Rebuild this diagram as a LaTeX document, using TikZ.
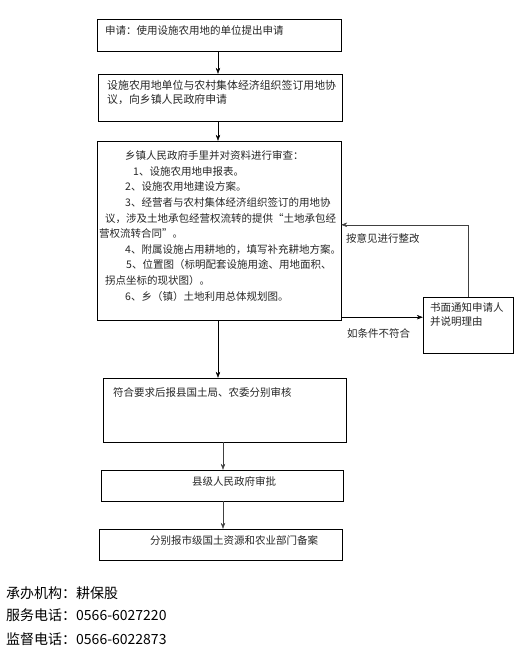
\documentclass[tikz,border=0pt]{standalone}
\usepackage{fontspec}
\setmainfont{Noto Sans CJK SC}
\usetikzlibrary{arrows.meta}

\begin{document}
\begin{tikzpicture}[x=1bp, y=-1bp, >={Stealth[length=6bp,width=4.5bp]}, thin,
        box/.style={draw, rectangle, inner sep=0pt},
        txt/.style={inner sep=0pt, anchor=west, align=left, text=black!85,
            font=\fontsize{10.5bp}{13.5bp}\selectfont},
        foot/.style={inner sep=0pt, anchor=west, font=\fontsize{14bp}{17bp}\selectfont}]
    \useasboundingbox (0,0) rectangle (520,671);
    % Boxes
    \node[box, minimum width=244bp, minimum height=32bp] (apply) at (219,35) {};
    \node[box, minimum width=244bp, minimum height=47bp] (agree) at (220,97.5) {};
    \node[box, minimum width=244bp, minimum height=179bp] (review) at (219,230.5) {};
    \node[box, minimum width=243bp, minimum height=64bp] (report) at (224.5,410) {};
    \node[box, minimum width=242bp, minimum height=31bp] (approve) at (222,485.5) {};
    \node[box, minimum width=243bp, minimum height=31bp] (record) at (220.5,544.5) {};
    \node[box, minimum width=90bp, minimum height=56bp] (notice) at (468,325) {};
    % Box texts
    \node[txt] (applytxt) at (105,31) {申请：使用设施农用地的单位提出申请};
    \node[txt, font=\fontsize{10.9bp}{13.5bp}\selectfont] (agreetxt) at (107,92.5)
        {设施农用地单位与农村集体经济组织签订用地协\\议，向乡镇人民政府申请};
    \node[txt, anchor=north west, font=\fontsize{10.5bp}{15.6bp}\selectfont] (reviewtxt) at (105,150.5)
        {\hspace{20bp}乡镇人民政府手里并对资料进行审查：\\
         \hspace{28bp}1、设施农用地申报表。\\
         \hspace{20bp}2、设施农用地建设方案。\\
         \hspace{20bp}3、经营者与农村集体经济组织签订的用地协\\
         议，涉及土地承包经营权流转的提供“土地承包经\\
         \hspace{-6bp}营权流转合同”。\\
         \hspace{20bp}4、附属设施占用耕地的，填写补充耕地方案。\\
         \hspace{21bp}5、位置图（标明配套设施用途、用地面积、\\
         拐点坐标的现状图）。\\
         \hspace{20bp}6、乡（镇）土地利用总体规划图。};
    \node[txt] (reporttxt) at (113,392) {符合要求后报县国土局、农委分别审核};
    \node[txt] (approvetxt) at (192,481) {县级人民政府审批};
    \node[txt] (recordtxt) at (150,540) {分别报市级国土资源和农业部门备案};
    \node[txt, align=left, font=\fontsize{10.5bp}{14bp}\selectfont] (noticetxt) at (430,315)
        {书面通知申请人\\并说明理由};
    % Arrows down
    \draw[->] (apply.south -| 218,0) -- (agree.north -| 218,0);
    \draw[->] (agree.south -| 218,0) -- (review.north -| 218,0);
    \draw[->] (review.south -| 218,0) -- (report.north -| 218,0);
    \draw[->, black!75] (report.south -| 223,0) -- (approve.north -| 223,0);
    \draw[->, black!75] (approve.south -| 223,0) -- (record.north -| 223,0);
    % Side loop
    \draw[->] ([yshift=3bp]review.south east) -- ([yshift=3bp]review.south east -| notice.west);
    \draw[->, black!75] (notice.north) |- ([yshift=-84bp]review.north east);
    % Loop labels
    \node[txt] (fixlbl) at (346,238) {按意见进行整改};
    \node[txt] (faillbl) at (347,333) {如条件不符合};
    % Footer
    \node[foot] (org) at (6,593) {承办机构：耕保股};
    \node[foot] (service) at (6,615) {服务电话：0566-6027220};
    \node[foot] (supervise) at (6,639) {监督电话：0566-6022873};
\end{tikzpicture}
\end{document}
